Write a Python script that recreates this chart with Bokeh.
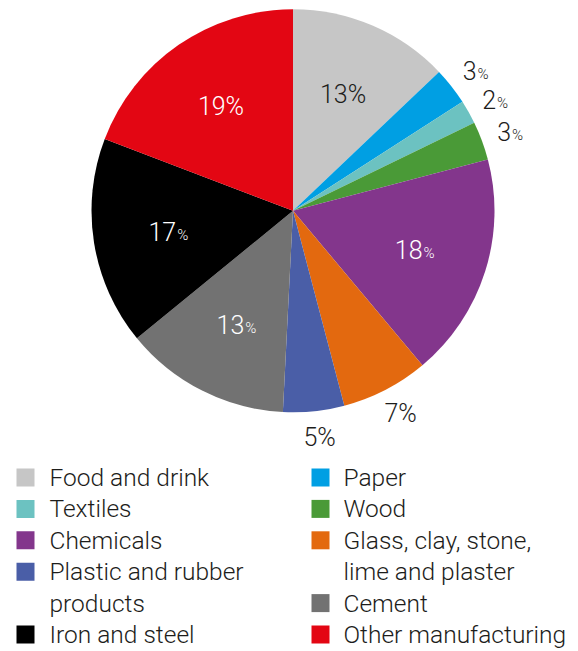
import numpy as np
from bokeh.plotting import figure
from bokeh.models import Range1d
from bokeh.core.properties import value
from bokeh.embed import file_html
from bokeh.resources import INLINE

# ---- data ----
categories = ["Food and drink", "Paper", "Textiles", "Wood", "Chemicals",
              "Glass, clay, stone,\nlime and plaster", "Plastic and rubber\nproducts",
              "Cement", "Iron and steel", "Other manufacturing"]
shares = [12.9, 3.0, 1.9, 3.1, 18.0, 7.0, 4.9, 13.3, 16.7, 19.2]
pct_labels = ["13", "3", "2", "3", "18", "7", "5", "13", "17", "19"]
colors = ["#c6c6c6", "#009fe3", "#6cc2c1", "#4a9a37", "#83368c",
          "#e3690f", "#4a5ea7", "#727272", "#000000", "#e30613"]

# ---- style / layout ----
W, H = 578, 651
FONT = value("Roboto Light")
TXT = "#1d1d1b"
inside = [True, False, False, False, True, False, False, True, True, True]
small_pct = [False, True, True, True, True, False, False, True, True, False]
lab_color = [TXT, TXT, TXT, TXT, "white", TXT, TXT, "white", "white", "white"]

cx, cy, R = 292.5, H - 210.3, 201.5

p = figure(width=W, height=H, output_backend="svg", toolbar_location=None,
           x_range=Range1d(0, W), y_range=Range1d(0, H),
           min_border=0, min_border_left=0, min_border_right=0,
           min_border_top=0, min_border_bottom=0)
p.axis.visible = False
p.grid.visible = False
p.outline_line_color = None
p.background_fill_color = "white"
p.border_fill_color = "white"

fr = np.array(shares) / sum(shares)
cum = np.concatenate([[0], np.cumsum(fr)])
theta0 = cum[:-1] * 2 * np.pi   # clockwise from top
theta1 = cum[1:] * 2 * np.pi
start = np.pi / 2 - theta0
end = np.pi / 2 - theta1

p.wedge(x=cx, y=cy, radius=R, start_angle=start, end_angle=end,
        direction="clock", fill_color=colors, line_color=None)

FS = 25
FS_SMALL = 15
for i, lab in enumerate(pct_labels):
    mid = (theta0[i] + theta1[i]) / 2
    rf = 0.63 if inside[i] else 1.13
    lx = cx + rf * R * np.sin(mid)
    ly = cy + rf * R * np.cos(mid)
    if not inside[i] and np.sin(mid) > 0:
        lx += 3  # outside labels on the right sit a little further out
    if small_pct[i]:
        num_w = len(lab) * 0.562 * FS
        pct_w = 0.733 * FS_SMALL
        split = lx + (num_w - pct_w) / 2
        p.text(x=[split], y=[ly], text=[lab], text_align="right",
               text_baseline="middle", text_font=FONT,
               text_font_size=f"{FS}px", text_color=lab_color[i])
        p.text(x=[split + 1], y=[ly - 0.355 * (FS - FS_SMALL)], text=["%"],
               text_align="left", text_baseline="middle", text_font=FONT,
               text_font_size=f"{FS_SMALL}px", text_color=lab_color[i])
    else:
        p.text(x=[lx], y=[ly], text=[lab + "%"], text_align="center",
               text_baseline="middle", text_font=FONT,
               text_font_size=f"{FS}px", text_color=lab_color[i])

# ---- legend (two columns, alternating) ----
LFS = 24.5
row0, row_h = 477, 31.4
col_sq = [25, 320]
col_tx = [49, 343]
col_row = [0, 0]
for i, cat in enumerate(categories):
    c = i % 2
    r = col_row[c]
    yc = H - (row0 + r * row_h)
    p.rect(x=[col_sq[c]], y=[yc], width=18, height=18,
           fill_color=colors[i], line_color=None)
    lines = cat.split("\n")
    for j, ln in enumerate(lines):
        yt = H - (row0 + (r + j) * row_h)
        p.text(x=[col_tx[c]], y=[yt], text=[ln], text_align="left",
               text_baseline="middle", text_font=FONT,
               text_font_size=f"{LFS}px", text_color=TXT)
    col_row[c] += len(lines)

open("out.html", "w").write(file_html(p, INLINE))
